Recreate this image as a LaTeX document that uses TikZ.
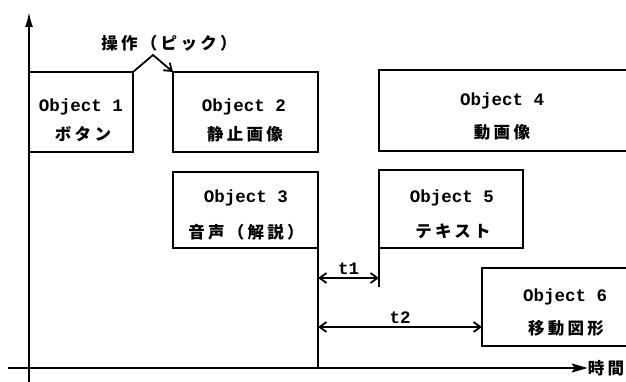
\documentclass[tikz,border=0pt]{standalone}
\usepackage{fontspec}
\usetikzlibrary{arrows.meta}
\newfontfamily\cjk[LetterSpace=20]{Noto Sans CJK JP}
\newfontfamily\monof{Liberation Mono}
\begin{document}
\begin{tikzpicture}[x=1pt,y=-1pt,
  box/.style={draw, line width=1.8pt, rectangle, inner sep=0pt, outer sep=0pt},
  en/.style={font=\monof\bfseries\fontsize{17.5}{17.5}\selectfont, inner sep=0pt},
  jp/.style={font=\cjk\bfseries\fontsize{16.5}{16.5}\selectfont, inner sep=0pt},
  ln/.style={line width=1.8pt},
  dim/.style={line width=1.8pt, {Straight Barb[length=7pt,width=10pt,line width=1.8pt]}-{Straight Barb[length=7pt,width=10pt,line width=1.8pt]}},
  axis/.style={line width=1.9pt}
]
\useasboundingbox (0,0) rectangle (626,382);
% boxes
\node[box, minimum width=104pt, minimum height=80pt] (o1) at (81,112) {};
\node[box, minimum width=145pt, minimum height=80pt] (o2) at (245.5,112) {};
\node[box, minimum width=145pt, minimum height=76pt] (o3) at (245.5,210) {};
\node[box, minimum width=261pt, minimum height=81pt] (o4) at (509.5,110.5) {};
\node[box, minimum width=144pt, minimum height=78pt] (o5) at (451,209) {};
\node[box, minimum width=158pt, minimum height=78pt] (o6) at (561,307) {};
% texts
\node[en] (t1a) at (81,107) {Object 1};
\node[jp] (t1b) at (83,134) {ボタン};
\node[en] (t2a) at (244,107) {Object 2};
\node[jp] (t2b) at (245,134) {静止画像};
\node[en] (t3a) at (246,198) {Object 3};
\node[jp] (t3b) at (246,232) {音声（解説）};
\node[en] (t4a) at (502,101) {Object 4};
\node[jp] (t4b) at (502,132) {動画像};
\node[en] (t5a) at (452,198) {Object 5};
\node[jp] (t5b) at (453,231) {テキスト};
\node[en] (t6a) at (565,297) {Object 6};
\node[jp] (t6b) at (566,328) {移動図形};
\node[jp] (pick) at (169,43) {操作（ピック）};
\node[jp] (time) at (606,368) {時間};
% axes
\coordinate (ybot) at (29,382);
\coordinate (ytop) at (29,12);
\coordinate (xl) at (8,368);
\draw[axis, -{Latex[length=15pt,width=8pt]}] (ybot) -- (ytop);
\draw[axis, -{Stealth[length=16pt,width=9pt,inset=3pt]}] (xl) -- (time.west);
% pick arrow
\coordinate (peak) at (153,55);
\draw[ln, -{Straight Barb[length=7pt,width=10pt,line width=1.8pt]}] (o1.north east) -- (peak) -- (o2.north west);
% extensions
\coordinate (o3ext) at (o3.south east |- xl);
\coordinate (o5ext) at ([yshift=-39pt]o5.south west);
\draw[ln] (o3.south east) -- (o3ext);
\draw[ln] (o5.south west) -- (o5ext);
% dimensions
\coordinate (d1a) at (o3.east |- 0,278);
\coordinate (d1b) at (o5.west |- 0,278);
\draw[dim] (d1a) -- (d1b) node[midway, above=2pt, en] (lt1) {t1};
\coordinate (d2a) at (o3.east |- 0,327);
\coordinate (d2b) at (o6.west |- 0,327);
\draw[dim] (d2a) -- (d2b) node[midway, above=2pt, en] (lt2) {t2};
\end{tikzpicture}
\end{document}
